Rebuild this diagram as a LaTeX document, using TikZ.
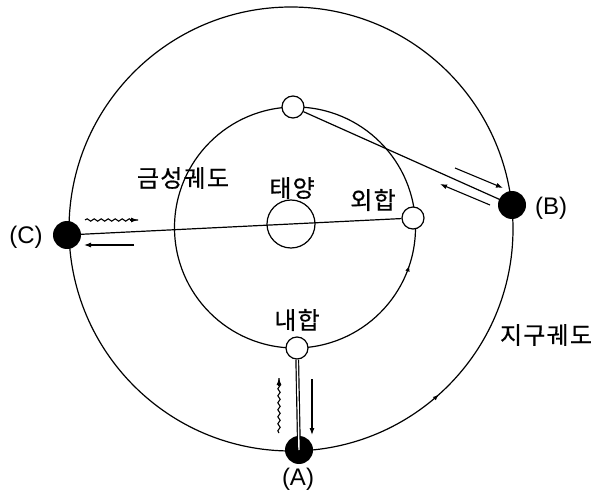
\documentclass[tikz,border=0pt]{standalone}
\usepackage{fontspec}
\setmainfont{Liberation Sans}
\newfontfamily\kr[FakeBold=0.6,LetterSpace=5]{Noto Sans CJK KR}
\usetikzlibrary{arrows.meta,decorations.pathmorphing,decorations.markings}

\begin{document}
\begin{tikzpicture}[
  x=1pt, y=1pt,
  orbit/.style={line width=1.2pt},
  venus/.style={circle, draw, line width=1.2pt, fill=white, minimum size=22pt, inner sep=0pt},
  earth/.style={circle, fill=black, minimum size=28pt, inner sep=0pt},
  sunbody/.style={circle, draw, line width=1.2pt, minimum size=48pt, inner sep=0pt},
  lbl/.style={font=\kr\fontsize{24}{28}\selectfont},
  tag/.style={font=\fontsize{24}{28}\selectfont},
  ray/.style={line width=1.2pt},
  back/.style={-{Latex[length=7pt,width=5pt]}, line width=1.1pt},
  wave/.style={line width=1.1pt, decorate,
    decoration={snake, amplitude=1.2pt, segment length=7pt, post length=5pt}},
  head/.style={back, shorten <=#1},
  tip/.style={postaction={decorate}, decoration={markings,
    mark=at position #1 with {\arrow{Latex[length=6pt,width=4.5pt]}}}}
]
\useasboundingbox (0,0) rectangle (603,-497);

% orbits
\coordinate (vc) at (295,-227.5);
\coordinate (ec) at (291,-229);
\draw[orbit, tip=0.949] (vc) circle[radius=120.5];
\draw[orbit, tip=0.866] (ec) circle[radius=222];

% sun and planets
\node[sunbody] (sun) at (291,-224) {};
\node[venus] (vtop) at (293,-107) {};
\node[venus] (vsup) at (413,-218) {};
\node[venus] (vinf) at (297,-348) {};
\node[earth] (A) at (299,-450) {};
\node[earth] (B) at (512,-205) {};
\node[earth] (C) at (67,-235) {};

% sight lines
\draw[ray] (C.center) -- (vsup);
\draw[ray] (vtop) -- (B.center);
\draw[ray, double, double distance=1.4pt] (vinf) -- (A.center);

% signals
\coordinate (c1) at (85,-220);
\coordinate (c2) at (138,-220);
\coordinate (c3) at (134,-245);
\coordinate (c4) at (84,-245);
\draw[wave] (c1) -- (c2);
\draw[head=45pt] (c1) -- (c2);
\draw[back] (c3) -- (c4);
\coordinate (b1) at (455,-168);
\coordinate (b2) at (503,-188);
\coordinate (b3) at (490,-205);
\coordinate (b4) at (440,-184);
\draw[back] (b1) -- (b2);
\draw[back] (b3) -- (b4);
\coordinate (a1) at (279,-433);
\coordinate (a2) at (279,-378);
\coordinate (a3) at (312,-379);
\coordinate (a4) at (312,-435);
\draw[wave] (a1) -- (a2);
\draw[head=47pt] (a1) -- (a2);
\draw[back] (a3) -- (a4);

% labels
\node[lbl] (vlab) at (183,-178) {금성궤도};
\node[lbl] (slab) at (292,-188) {태양};
\node[lbl] (suplab) at (373,-200) {외합};
\node[lbl] (inflab) at (297,-320) {내합};
\node[lbl] (elab) at (546,-335) {지구궤도};
\node[tag] (Alab) at (298,-479) {(A)};
\node[tag] (Blab) at (551,-208) {(B)};
\node[tag] (Clab) at (26,-237) {(C)};
\end{tikzpicture}
\end{document}
